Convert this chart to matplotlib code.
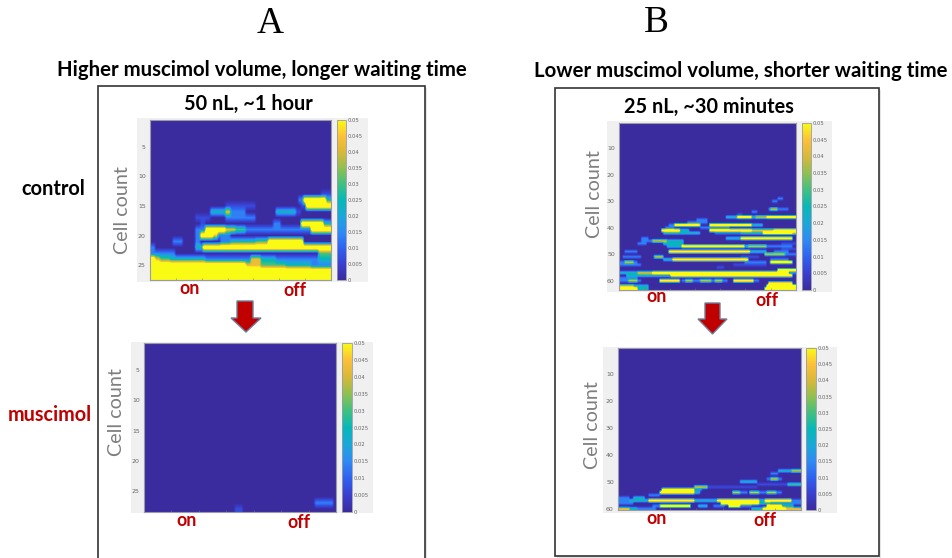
#!/usr/bin/env python3
import matplotlib
matplotlib.use('Agg')
import matplotlib.pyplot as plt
import numpy as np
from matplotlib.colors import LinearSegmentedColormap
from matplotlib.patches import Polygon, Rectangle

W, H = 952, 558
VMAX = 0.05
Y = 0.065   # saturated cells, clipped at the top of the colour scale
O = 0.043   # orange
G = 0.031   # green
T = 0.024   # teal
B = 0.014   # bright blue
L = 0.007   # dim blue

# every heatmap: (row, first column, end column, value), the rest stays 0
a_top_cells = [
    (13, 34, 36, L), (14, 29.5, 30.5, B), (14, 30.5, 35, Y), (14, 35, 36, T),
    (15, 15, 21, L), (15, 30, 31, L), (15, 31, 36, Y),
    (16, 12, 15, T), (16, 15, 16, O), (16, 16, 19, B), (16, 25, 29, T), (16, 29, 30, L),
    (17, 9, 12, L), (17, 15, 21, B),
    (18, 10, 11, L), (18, 24.5, 26, B), (18, 30, 34.5, Y), (18, 34.5, 36, T),
    (19, 9, 11, B), (19, 11, 15, Y), (19, 15, 17, O), (19, 17, 19, G), (19, 19, 29, B),
    (19, 29, 32, B), (19, 32, 36, Y),
    (20, 9, 10, B), (20, 10, 12.5, Y), (20, 12.5, 13.5, O), (20, 13.5, 16, B),
    (21, 4.5, 6.5, B), (21, 9, 10, B), (21, 14, 16, B), (21, 16, 21, T), (21, 21, 23.5, G),
    (21, 23.5, 30.5, Y),
    (22, 0, 1, B), (22, 9, 10.5, T), (22, 10.5, 36, Y),
    (23, 0, 5, B), (23, 33.5, 36, G),
    (24, 0, 1, Y), (24, 1, 2, O), (24, 2, 4, G), (24, 4, 11, T), (24, 11, 20, B), (24, 20, 22, O),
    (24, 22, 25, T), (24, 25, 33.5, B), (24, 33.5, 36, T),
    (25, 0, 19, Y), (25, 19, 22, O), (25, 22, 27, G), (25, 27, 32, T), (25, 32, 36, B),
    (26, 0, 36, Y), (27, 0, 36, Y),
]
a_bottom_cells = [(27, 32, 35.5, B), (28, 17, 18.5, L)]
b_top_cells = [
    (29, 43, 44.5, B), (30, 41.5, 43, B), (33, 40.5, 41, B), (33, 41, 43, O), (33, 43, 46, B),
    (34, 36, 37.5, B), (35, 32, 33.5, L),
    (36, 29, 32, T), (36, 32, 36, Y), (36, 36, 37, T), (36, 37, 40, O), (36, 40, 48, Y),
    (37, 21, 24, B), (38, 18.5, 24, B),
    (39, 13.5, 15, B), (39, 15, 22, Y), (39, 24.5, 36, Y), (39, 36, 39, T),
    (40, 12.5, 15, B), (40, 22, 30, B),
    (41, 11.5, 16.5, Y), (41, 16.5, 19, T), (41, 24.5, 36, Y), (41, 36, 42, O), (41, 42, 48, Y),
    (42, 12, 22, T), (42, 26, 33, B), (42, 33, 39, T), (42, 39, 47, Y), (42, 47, 48, O),
    (44, 6, 8, B), (44, 29, 33, T), (44, 33, 47, Y),
    (45, 6, 9, B), (45, 9, 13, O), (45, 13, 17.5, T),
    (46, 5, 7.5, B), (46, 12, 17.5, T), (46, 44, 48, L),
    (47, 13, 17, T), (47, 17, 34, Y), (47, 34, 35, T), (47, 35, 40, O), (47, 40, 47, B),
    (48, 44, 48, L),
    (49, 1.5, 5, B), (49, 13.5, 35.5, Y), (49, 35.5, 40, T), (49, 42, 46, B),
    (50, 39.5, 45, O), (50, 45, 48, B),
    (51, 1, 6, B), (51, 9.5, 12, O), (51, 33, 38, L),
    (52, 12, 14.5, T), (52, 14.5, 35, Y), (52, 41, 46, B),
    (53, 0, 1.5, B), (53, 1.5, 4, O), (53, 4, 5, B), (53, 34, 40, B), (53, 41, 47, Y),
    (54, 0, 6, B), (54, 31, 40, L),
    (55, 26.5, 28.5, L),
    (56, 43, 48, Y),
    (57, 0, 5, T), (57, 5, 9, O), (57, 9, 46, Y), (57, 46, 48, B),
    (58, 2, 14, T), (58, 14, 47, Y),
    (59, 0, 5, B),
    (60, 0, 2.5, B), (60, 2.5, 5, O), (60, 5, 6, B), (60, 11, 16.5, Y), (60, 17, 18, B),
    (60, 18, 20, O), (60, 20, 22, B), (60, 22, 25, O), (60, 25, 26, B), (60, 26, 28, O),
    (60, 28, 29.5, B), (60, 31, 36.5, Y), (60, 36.5, 38, B),
    (61, 40.5, 47, Y),
    (62, 0, 4, O), (62, 4, 8, T), (62, 40, 48, Y),
    (63, 0, 5, Y), (63, 5, 8, T), (63, 39.5, 48, Y),
]
b_bottom_cells = [
    (46, 42, 45.5, T), (46, 45.5, 48, O),
    (47, 40, 42, B),
    (49, 39, 40, B), (49, 40, 42, O), (49, 42, 43, B),
    (50, 32, 36.5, T),
    (51, 36.5, 44.5, L), (51, 44.5, 48, G),
    (52, 20, 23.5, O), (52, 23.5, 36.5, L),
    (53, 11.5, 20, Y), (53, 20, 22, B),
    (54, 11, 20, Y), (54, 20, 21.5, T), (54, 30, 32, O), (54, 32, 34, B), (54, 34.5, 37, O),
    (54, 37, 39, B), (54, 39, 41.5, O), (54, 41.5, 43, B),
    (55, 8, 11, B),
    (56, 0, 3, B), (56, 4, 7, T),
    (57, 0, 3, B), (57, 3, 8, T), (57, 8, 20, Y), (57, 20, 26, T), (57, 26, 37, Y), (57, 37, 38.5, T),
    (57, 38.5, 45.5, Y), (57, 45.5, 48, B),
    (58, 0, 4, B), (58, 27, 37, Y), (58, 40, 48, B), (58, 37, 40, T),
    (59, 9, 11, B), (59, 11, 19, Y), (59, 21, 23.5, T), (59, 25, 28, B), (59, 29, 32, Y),
    (59, 32, 35, B), (59, 39, 43, Y), (59, 43, 46, T),
    (60, 0, 3, O), (60, 3, 5, T), (60, 5, 10, B), (60, 35, 38, T), (60, 38, 44, Y), (60, 44, 48, O),
]

cbar_ticks = [0, 0.005, 0.01, 0.015, 0.02, 0.025, 0.03, 0.035, 0.04, 0.045, 0.05]
cbar_labels = ['0', '0.005', '0.01', '0.015', '0.02', '0.025', '0.03', '0.035', '0.04', '0.045', '0.05']

cmap = LinearSegmentedColormap.from_list('parula_like', [
    '#3a2b9e', '#3a3fd0', '#2f62f0', '#2f8af5', '#1aa8d8', '#05b8b8',
    '#40c080', '#90c050', '#d8b838', '#fcc038', '#f9fb14'])


def to_fig(x0, y0, x1, y1):
    return [x0 / W, 1 - y1 / H, (x1 - x0) / W, (y1 - y0) / H]


def fill_grid(cells, nrows, ncols):
    grid = np.zeros((nrows, ncols * 2))
    for row, c0, c1, val in cells:
        grid[row - 1, int(c0 * 2):int(c1 * 2)] = val
    return grid


def heatmap(cells, nrows, ncols, yticks, box, cbar_box, back):
    bg.add_patch(Rectangle((back[0], back[1]), back[2] - back[0], back[3] - back[1],
                           facecolor='#f0f0f0', edgecolor='none'))
    ax = fig.add_axes(to_fig(*box))
    im = ax.imshow(fill_grid(cells, nrows, ncols), cmap=cmap, vmin=0, vmax=VMAX, aspect='auto',
                   interpolation='bilinear', interpolation_stage='data',
                   extent=(0, ncols, nrows + 0.5, 0.5))
    ax.set_yticks(yticks)
    ax.set_xticks(np.linspace(0, ncols, 8)[1:-1])
    ax.set_xticklabels([])
    ax.tick_params(axis='y', labelsize=4.5, labelcolor='#666666', length=0, pad=3)
    ax.tick_params(axis='x', length=1.5, width=0.4, color='#777777', direction='in')
    for s in ax.spines.values():
        s.set_color('#9a9aa8')
        s.set_linewidth(0.8)
    cax = fig.add_axes(to_fig(*cbar_box))
    cb = fig.colorbar(im, cax=cax)
    cb.set_ticks(cbar_ticks)
    cb.set_ticklabels(cbar_labels)
    cb.ax.tick_params(labelsize=3.8, labelcolor='#666666', length=0, pad=1.5)
    cb.outline.set_edgecolor('#9a9aa8')
    cb.outline.set_linewidth(0.6)


def down_arrow(x0, x1, sx0, sx1, y0, yh, y1):
    pts = [(sx0, y0), (sx1, y0), (sx1, yh), (x1, yh), ((x0 + x1) / 2, y1), (x0, yh), (sx0, yh)]
    bg.add_patch(Polygon(pts, closed=True, facecolor='#c00000', edgecolor='#6f7f9a', linewidth=1.0))


fig = plt.figure(figsize=(W / 100, H / 100), dpi=100)
bg = fig.add_axes([0, 0, 1, 1])
bg.set_xlim(0, W)
bg.set_ylim(H, 0)
bg.axis('off')

# frames with their soft shadow
for x0, y0, x1, y1 in [(98, 86, 425, 562), (555, 88, 879, 556)]:
    bg.add_patch(Rectangle((x0 + 2, y0 + 2), x1 - x0, y1 - y0, facecolor='#e4e4e4', edgecolor='none'))
    bg.add_patch(Rectangle((x0, y0), x1 - x0, y1 - y0, facecolor='white', edgecolor='#333333', linewidth=1.2))

heatmap(a_top_cells, 27, 36, [5, 10, 15, 20, 25], (150, 120, 331, 280), (337, 120, 346, 280), (137, 118, 368, 282))
heatmap(a_bottom_cells, 28, 36, [5, 10, 15, 20, 25], (144, 343, 336, 512), (342, 343, 352, 512), (131, 342, 373, 513))
heatmap(b_top_cells, 63, 48, [10, 20, 30, 40, 50, 60], (619, 123, 796, 290), (802, 123, 811, 290), (607, 121, 832, 292))
heatmap(b_bottom_cells, 60, 48, [10, 20, 30, 40, 50, 60], (618, 348, 801, 510), (806, 348, 816, 510), (603, 347, 837, 513))

down_arrow(231, 261, 237, 253, 301, 318, 332)
down_arrow(698, 727, 705, 720, 303, 319, 334)

serif = dict(family='Liberation Serif', fontsize=27, color='black', ha='center', va='center')
bg.text(270, 24, 'A', **serif)
bg.text(656, 23, 'B', **serif)

bold = dict(family='Lato', fontweight='bold', ha='center', va='center')
bg.text(261.5, 70, 'Higher muscimol volume, longer waiting time', fontsize=14.7, color='black', **bold)
bg.text(741, 71, 'Lower muscimol volume, shorter waiting time', fontsize=14.7, color='black', **bold)
bg.text(248.5, 104, '50 nL, ~1 hour', fontsize=14.3, color='black', **bold)
bg.text(708.5, 107, '25 nL, ~30 minutes', fontsize=14.3, color='black', **bold)
bg.text(53.5, 189, 'control', fontsize=14.4, color='black', **bold)
bg.text(49.5, 415, 'muscimol', fontsize=14.3, color='#c00000', **bold)

for x, y, s in [(190, 289, 'on'), (295, 291, 'off'), (187, 521, 'on'), (299, 522, 'off'),
                (657, 296, 'on'), (767, 301, 'off'), (657, 518, 'on'), (765, 520, 'off')]:
    bg.text(x, y, s, fontsize=12.8, color='#c00000', **bold)

for x, y in [(123, 210), (117, 412), (594, 194), (593, 425)]:
    bg.text(x, y, 'Cell count', family='Lato', fontsize=14.2, color='#7f7f7f', rotation=90,
            ha='center', va='center')

fig.savefig('out.png', dpi=100)
